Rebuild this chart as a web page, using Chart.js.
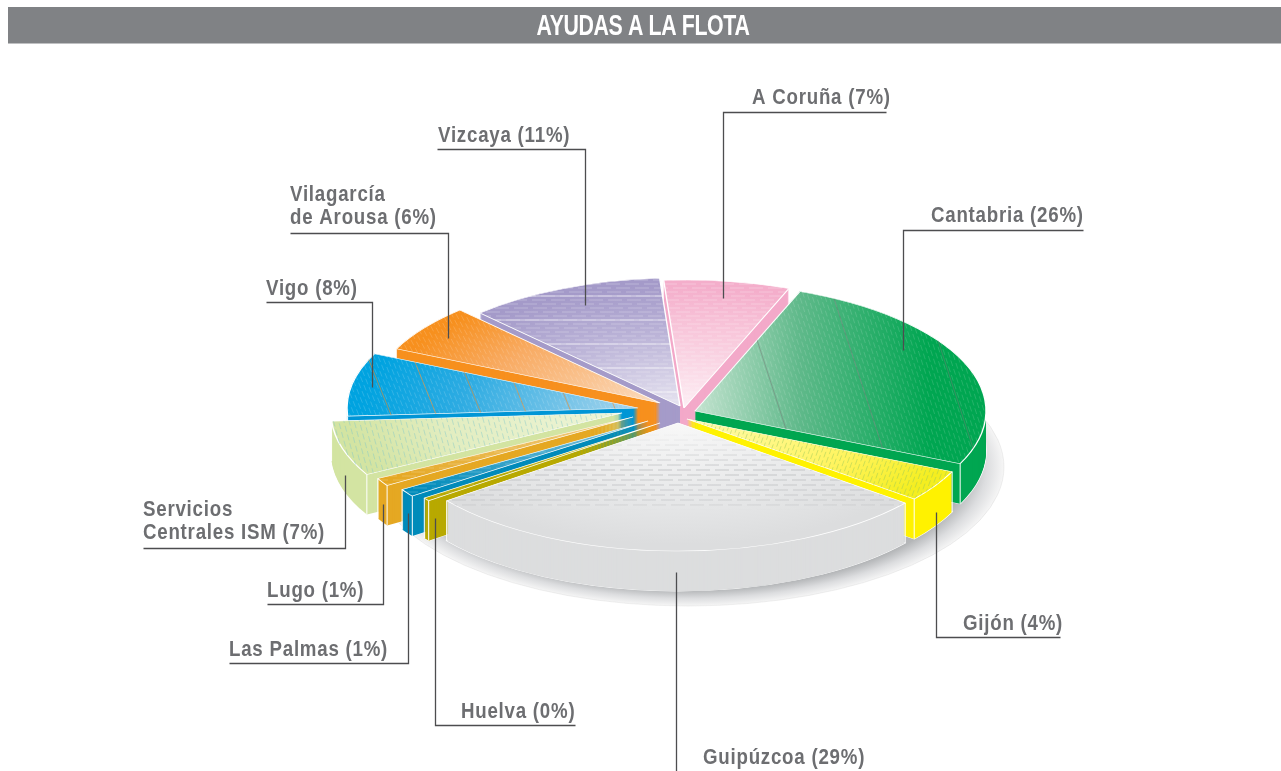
<!DOCTYPE html>
<html lang="es">
<head>
<meta charset="utf-8">
<title>Ayudas a la flota</title>
<style>html,body{margin:0;padding:0;background:#fff}canvas{display:block}</style>
<script src="https://cdn.jsdelivr.net/npm/chart.js@4/dist/chart.umd.min.js"></script>
</head>
<body>
<canvas id="c" width="1281" height="771"></canvas>
<script>
const chartTitle = 'AYUDAS A LA FLOTA';
const categories = ['A Coruña','Cantabria','Gijón','Guipúzcoa','Huelva','Las Palmas','Lugo','Servicios Centrales ISM','Vigo','Vilagarcía de Arousa','Vizcaya'];
const values = [7,26,4,29,0.4,1,1,7,8,6,11];

// style tables (not data)
const topOuter = ['#f4aecb','#00a651','#f4ee20','#dcddde','#b8a900','#008bba','#e5a823','#d3e4a2','#00a3e0','#f7901e','#a49ac9'];
const topMid   = ['#f8c6da','#5fb98a','#fff45e','#e6e7e8','#b8a900','#30a0c8','#e9b545','#e2edc0','#2cabe2','#f8ab63','#b7afd5'];
const topInner = ['#fdeef4','#c4e3d0','#fffbb0','#f8f8f8','#cfc450','#80c4dc','#f0cf88','#eef5d8','#a9d5ec','#fbdcc0','#e6e3f0'];
const sideColor = ['#f3a9c9','#00a651','#fff200','#dcddde','#b8a900','#008bba','#e5a823','#d3e4a2','#0096d6','#f7901e','#a59bc9'];
const gradientLinear = [false,true,false,false,false,false,false,false,false,false,false];
const explodeX = [2,13,5,-4,-22,-34,-49,-60,-44,-22,-2];
const explodeY = [-6,-3,5,9,9,7,3,-1,-6,-11,-8];
const hatchAngle = [0,72,110,0,0,0,0,75,68,62,0];
const hatchStep = [4,4,4,5,4,4,4,5,4,4,4];
const hatchColor = ['rgba(255,255,255,.28)','rgba(255,255,255,.14)','rgba(150,200,90,.45)','g','rgba(255,255,255,.2)','rgba(255,255,255,.2)','rgba(255,255,255,.2)','rgba(130,200,200,.45)','rgba(255,255,255,.16)','rgba(255,255,255,.16)','rgba(255,255,255,.26)'];
const accentStep = [0,86,0,0,0,0,0,0,42,0,24];
const accentColor = ['','rgba(120,120,120,.5)','','','','','','','rgba(240,140,40,.6)','','rgba(255,255,255,.6)'];

const labelLines = [['A Coruña'],['Cantabria'],['Gijón'],['Guipúzcoa'],['Huelva'],['Las Palmas'],['Lugo'],['Servicios','Centrales ISM'],['Vigo'],['Vilagarcía','de Arousa'],['Vizcaya']];
const labelX = [752,931,963,703,461,229,267,143,266,290,438];
const labelBase = [104,222,630,764,718,656,597,539,295,224,142];
const leaderPts = [
  [[886,112],[723,112],[723,298]],
  [[1083,230],[903,230],[903,350]],
  [[1060,637],[936,637],[936,512]],
  [[676,771],[676,572]],
  [[575,725],[435,725],[435,518]],
  [[229,663],[408,663],[408,513]],
  [[267,604],[383,604],[383,504]],
  [[143,548],[345,548],[345,475]],
  [[266,302],[372,302],[372,387]],
  [[290,233],[448,233],[448,338]],
  [[437,149],[585,149],[585,305]]
];

const TILT = 0.44, RADIUS = 291, CENTER_Y = 414, DEPTH = 40;
const canvas = document.getElementById('c');
const ctx0 = canvas.getContext('2d');

function slicePath(ctx, a){
  ctx.beginPath();
  ctx.moveTo(a.x, a.y);
  ctx.arc(a.x, a.y, a.outerRadius, a.startAngle, a.endAngle);
  ctx.closePath();
}
function pieTransform(chart, dy){
  const cy = (chart.chartArea.top + chart.chartArea.bottom)/2;
  return [1,0,0,TILT,0,CENTER_Y - TILT*cy + (dy||0)];
}
function drawHatch(ctx, angleDeg, step, dash, color, stagger){
  const th=angleDeg*Math.PI/180, mx=680, my=420;
  const nx=-Math.sin(th), ny=Math.cos(th), ux=Math.cos(th), uy=Math.sin(th);
  ctx.strokeStyle=color;ctx.lineWidth=1;
  ctx.setLineDash(dash);
  let n=0;
  for(let o=-700;o<=700;o+=step,n++){
    ctx.lineDashOffset=n*stagger;
    ctx.beginPath();
    ctx.moveTo(mx+nx*o-ux*800,my+ny*o-uy*800);
    ctx.lineTo(mx+nx*o+ux*800,my+ny*o+uy*800);
    ctx.stroke();
  }
}

const explodePlugin = {
  id:'explode',
  afterDatasetsUpdate(chart){
    chart.getDatasetMeta(0).data.forEach((a,i)=>{
      a.x += explodeX[i];
      a.y += explodeY[i]/TILT;
      const r=a.outerRadius;
      const g=gradientLinear[i]
        ? ctx0.createLinearGradient(a.x,a.y,a.x+r*.8,a.y)
        : ctx0.createRadialGradient(a.x,a.y,0,a.x,a.y,r);
      g.addColorStop(0,topInner[i]);
      g.addColorStop(gradientLinear[i]?.45:.62,topMid[i]);
      g.addColorStop(gradientLinear[i]?1:.95,topOuter[i]);
      a.options.backgroundColor=g;
    });
  },
  beforeDatasetsDraw(chart){
    const ctx=chart.ctx, arcs=chart.getDatasetMeta(0).data;
    const cx=(chart.chartArea.left+chart.chartArea.right)/2;
    const cy=(chart.chartArea.top+chart.chartArea.bottom)/2;
    ctx.save();
    // soft ground shadow
    ctx.setTransform(...pieTransform(chart,53));
    const R=RADIUS+25;
    const sh=ctx.createRadialGradient(cx+6,cy,0,cx+6,cy,R);
    sh.addColorStop(0,'#b4b6b8');sh.addColorStop(.885,'#b4b6b8');
    sh.addColorStop(.945,'#dcdddf');sh.addColorStop(1,'#f6f6f6');
    ctx.fillStyle=sh;
    ctx.beginPath();ctx.arc(cx+6,cy,R,0,Math.PI*2);ctx.fill();
    ctx.strokeStyle='rgba(120,120,120,.25)';ctx.lineWidth=.6;ctx.stroke();
    // walls, back to front
    const order=arcs.map((a,i)=>i).sort((p,q)=>{
      const s=a=>Math.sin((a.startAngle+a.endAngle)/2);
      return s(arcs[p])-s(arcs[q]);
    });
    order.forEach(i=>{
      const a=arcs[i];
      ctx.setTransform(...pieTransform(chart,DEPTH));
      slicePath(ctx,a);
      ctx.strokeStyle='#fff';ctx.lineWidth=1.6;ctx.stroke();
      ctx.fillStyle=sideColor[i];
      for(let d=DEPTH;d>=0;d--){
        ctx.setTransform(...pieTransform(chart,d));
        slicePath(ctx,a);ctx.fill();
      }
      ctx.setTransform(1,0,0,1,0,0);
      ctx.strokeStyle='#fff';ctx.lineWidth=1;
      [a.startAngle,a.endAngle].forEach(t=>{
        if(Math.sin(t)>0.02){
          const px=a.x+Math.cos(t)*a.outerRadius;
          const py=CENTER_Y+TILT*(a.y-cy)+TILT*Math.sin(t)*a.outerRadius;
          ctx.beginPath();ctx.moveTo(px,py);ctx.lineTo(px,py+DEPTH);ctx.stroke();
        }
      });
    });
    ctx.restore();
    ctx.save();
    ctx.setTransform(...pieTransform(chart,0));
  },
  afterDatasetsDraw(chart){
    const ctx=chart.ctx, arcs=chart.getDatasetMeta(0).data;
    arcs.forEach((a,i)=>{
      ctx.save();
      ctx.setTransform(...pieTransform(chart,0));
      slicePath(ctx,a);
      ctx.clip();
      ctx.setTransform(1,0,0,1,0,0);
      let col=hatchColor[i];
      if(col==='g'){
        col=ctx.createLinearGradient(0,430,0,510);
        col.addColorStop(0,'rgba(170,172,175,0)');
        col.addColorStop(.5,'rgba(170,172,175,.6)');
        col.addColorStop(.92,'rgba(170,172,175,.4)');
        col.addColorStop(1,'rgba(170,172,175,0)');
      }
      const horizontal=hatchAngle[i]===0;
      drawHatch(ctx,hatchAngle[i],hatchStep[i],horizontal?[14,5]:[6,3],col,horizontal?9:4);
      if(accentStep[i]) {
        drawHatch(ctx,hatchAngle[i],accentStep[i],[],accentColor[i],0);
      }
      ctx.restore();
    });
    ctx.restore();
  },
  afterDraw(chart){
    const ctx=chart.ctx;
    ctx.save();
    // header band
    ctx.fillStyle='#808285';
    ctx.fillRect(8,7,1273,36.5);
    ctx.fillStyle='#fff';
    ctx.font='bold 29px "Liberation Sans"';
    ctx.letterSpacing='-0.5px';
    ctx.textAlign='center';ctx.textBaseline='alphabetic';
    ctx.save();
    ctx.translate(643,35);
    ctx.scale(.735,1);
    ctx.fillText(chartTitle,0,0);
    ctx.restore();
    // leader lines
    ctx.strokeStyle='#4d4d4f';ctx.lineWidth=1.3;
    leaderPts.forEach(p=>{
      ctx.beginPath();
      p.forEach((q,j)=>j?ctx.lineTo(q[0]+.5,q[1]+.5):ctx.moveTo(q[0]+.5,q[1]+.5));
      ctx.stroke();
    });
    // labels
    ctx.fillStyle='#6d6e71';
    ctx.textAlign='left';
    ctx.font='bold 22px "Liberation Sans"';
    ctx.letterSpacing='0.9px';
    categories.forEach((c,i)=>{
      const lines=labelLines[i].slice();
      lines[lines.length-1]+=' ('+Math.round(values[i])+'%)';
      lines.forEach((t,j)=>{
        ctx.save();
        ctx.translate(labelX[i],labelBase[i]-(lines.length-1-j)*23);
        ctx.scale(.85,1);
        ctx.fillText(t,0,0);
        ctx.restore();
      });
    });
    ctx.restore();
  }
};

new Chart(canvas,{
  type:'pie',
  data:{labels:categories,datasets:[{
    data:values,
    backgroundColor:topOuter,
    borderColor:'#ffffff',
    borderWidth:1.4,
    radius:RADIUS,
    clip:false
  }]},
  options:{
    responsive:false,
    animation:false,
    rotation:-4,
    layout:{padding:{left:83}},
    events:[],
    plugins:{legend:{display:false},title:{display:false},tooltip:{enabled:false}}
  },
  plugins:[explodePlugin]
});
</script>
</body>
</html>
